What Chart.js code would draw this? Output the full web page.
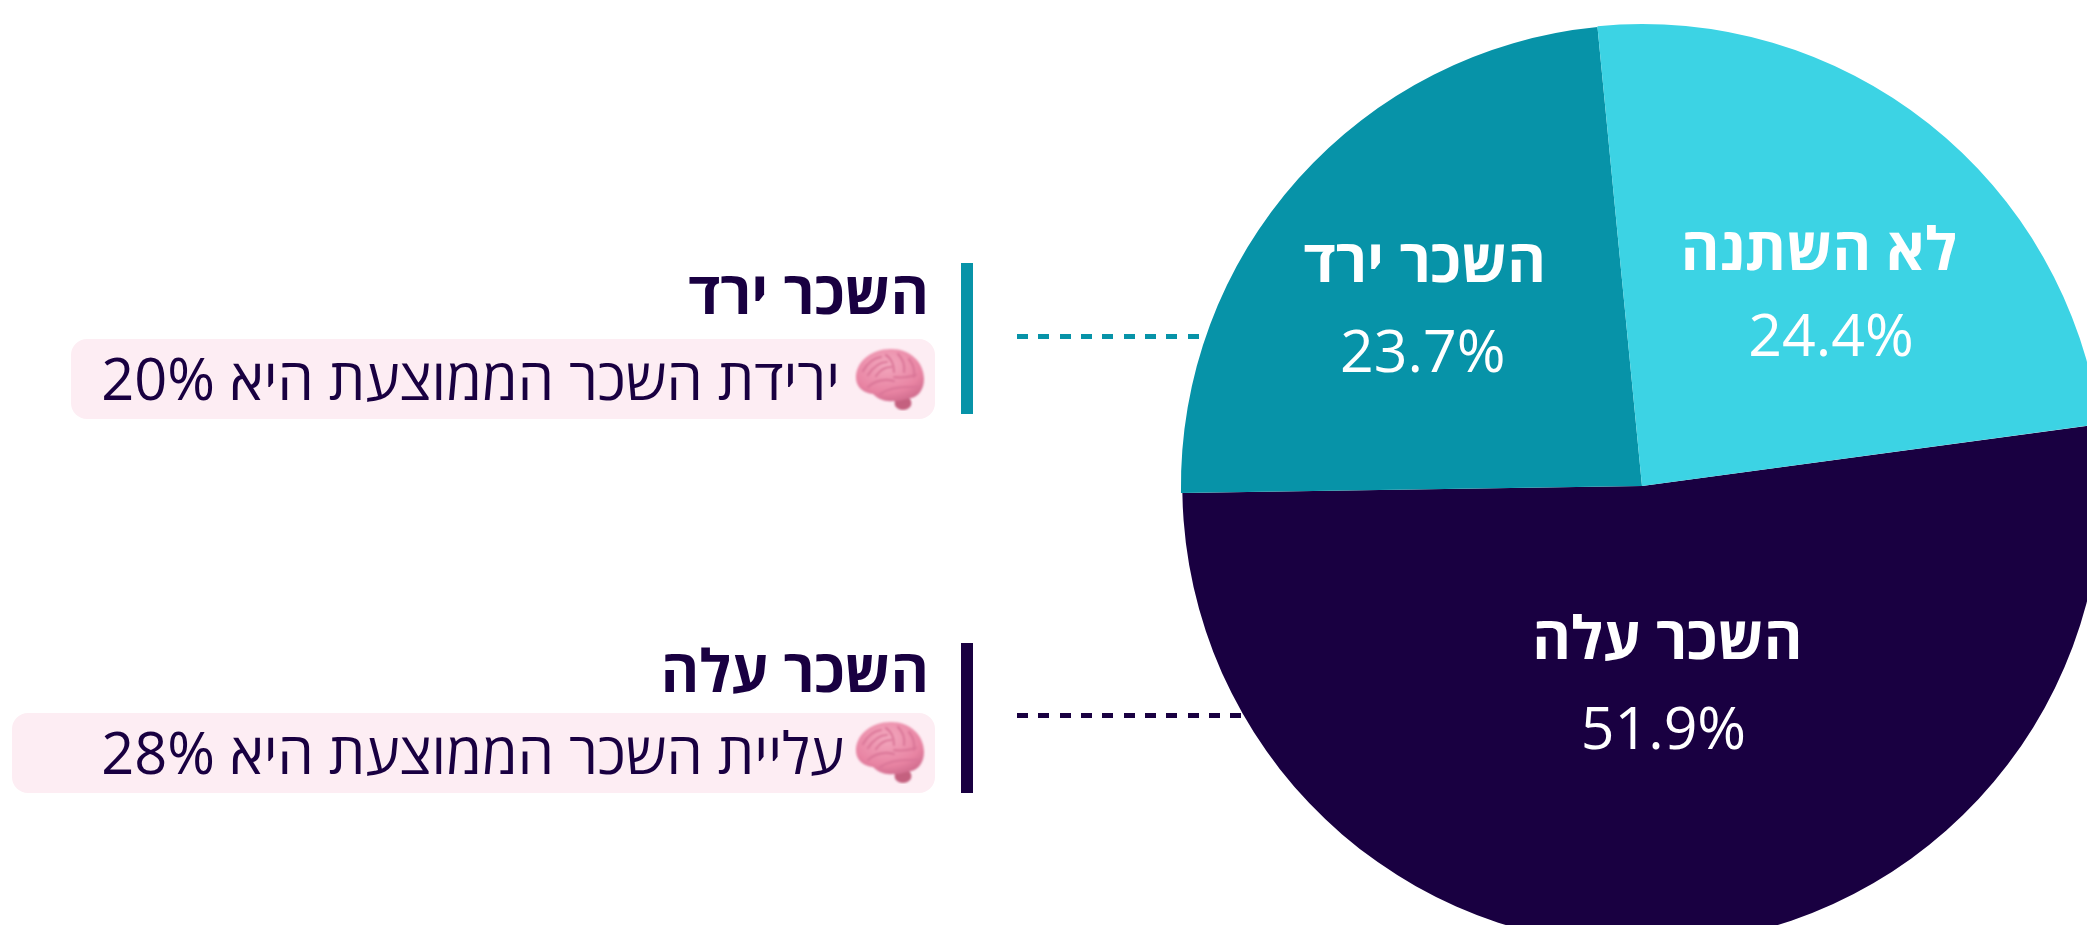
<!DOCTYPE html>
<html lang="he">
<head>
<meta charset="utf-8">
<script src="https://cdn.jsdelivr.net/npm/chart.js@4"></script>
<style>
html,body{margin:0;padding:0;width:2087px;height:925px;overflow:hidden;background:#fff;font-family:"Open Sans",sans-serif;color:#190041}
#wrap{position:absolute;left:0;top:0;width:2087px;height:925px;overflow:hidden}
#cv{position:absolute;left:0;top:0}
.bar{position:absolute;left:961px;width:12px}
.title{position:absolute;right:1158px;font-weight:700;font-size:58.6px;line-height:60px;direction:rtl;white-space:nowrap}
.box{position:absolute;right:1152px;background:#fdedf3;border-radius:16px;height:80px}
.txt{position:absolute;right:1247px;font-size:57.7px;line-height:80px;direction:rtl;white-space:nowrap}
.brain{position:absolute;left:854px;width:72px;height:64px}
.dash{position:absolute;left:1017px;height:5px}
</style>
</head>
<body>
<div id="wrap">
<canvas id="cv"></canvas>
<div class="bar" style="top:263px;height:151px;background:#0793a8"></div>
<div class="title" style="top:261px">השכר ירד</div>
<div class="box" style="top:339px;width:864px"></div>
<div class="txt" style="top:338px">ירידת השכר הממוצעת היא 20%</div>
<svg class="brain" style="top:347px" viewBox="0 0 72 64"><use href="#b"/></svg>
<div class="dash" style="top:334px;width:182px;background:repeating-linear-gradient(90deg,#0793a8 0 11px,transparent 11px 21.33px)"></div>

<div class="bar" style="top:643px;height:150px;background:#190041"></div>
<div class="title" style="top:639px">השכר עלה</div>
<div class="box" style="top:713px;width:923px"></div>
<div class="txt" style="top:712px;right:1243px">עליית השכר הממוצעת היא 28%</div>
<svg class="brain" style="top:720px" viewBox="0 0 72 64"><use href="#b"/></svg>
<div class="dash" style="top:713px;width:225px;background:repeating-linear-gradient(90deg,#190041 0 11px,transparent 11px 21.33px)"></div>
</div>
<svg width="0" height="0" style="position:absolute"><defs>
<radialGradient id="g" cx="45%" cy="30%" r="75%"><stop offset="0" stop-color="#f3a8be"/><stop offset="0.7" stop-color="#e884a3"/><stop offset="1" stop-color="#cf6a8c"/></radialGradient>
<filter id="s" x="-10%" y="-10%" width="120%" height="120%"><feGaussianBlur stdDeviation="0.8"/></filter>
<g id="b" filter="url(#s)">
<ellipse cx="49" cy="56" rx="8.5" ry="7" fill="#c4607f"/>
<path d="M2 32C1 15 17 2 37 2c19 0 33 13 33 30 0 12-7 19-17 20-5 1-9 3-14 2-8 1-15-2-20-7C10 46 3 41 2 32z" fill="url(#g)"/>
<path d="M9 24c5-9 11-13 18-14M14 28c6-9 12-13 19-13M22 29c4-6 10-9 15-9M32 8c6 4 8 10 8 17M44 7c5 5 7 11 6 18M55 12c4 5 6 11 5 18M14 40c8-7 18-8 26-6M26 47c9-6 22-8 38-7M40 30c6 1 12 1 22 -2" fill="none" stroke="#da7698" stroke-width="2.2" stroke-linecap="round"/>
</g></defs></svg>
<script>
const categories = ["השכר עלה", "השכר ירד", "לא השתנה"];
const shares = [51.9, 23.7, 24.4];
const sliceColors = ["#190041", "#0793a8", "#3cd3e4"];
const startAngle = 82.3;
const sliceScale = [0.995, 0.998, 1];
const labelRadius = [0.42, 0.60, 0.575];
const nameShift = [[11, 9], [-11, 9], [12, 20]];
const valueShift = [[7, 9], [-13, 9], [24, 16]];

const cv = document.getElementById("cv");
cv.width = 2200; cv.height = 1000;
cv.style.width = "2200px"; cv.style.height = "1000px";

const sliceLook = {
  id: "sliceLook",
  beforeDatasetsDraw(chart) {
    const meta = chart.getDatasetMeta(0);
    meta.data.forEach((arc, i) => {
      arc.outerRadius = meta.controller.outerRadius * sliceScale[i];
    });
  }
};

const sliceLabels = {
  id: "sliceLabels",
  afterDatasetsDraw(chart) {
    const ctx = chart.ctx;
    chart.getDatasetMeta(0).data.forEach((arc, i) => {
      const mid = (arc.startAngle + arc.endAngle) / 2;
      const r = arc.outerRadius * labelRadius[i];
      const x = arc.x + Math.cos(mid) * r;
      const y = arc.y + Math.sin(mid) * r;
      ctx.save();
      ctx.fillStyle = "#fff";
      ctx.textAlign = "center";
      ctx.textBaseline = "middle";
      ctx.direction = "rtl";
      ctx.font = '700 59px "Open Sans"';
      ctx.fillText(categories[i], x + nameShift[i][0], y - 45 + nameShift[i][1]);
      ctx.direction = "ltr";
      ctx.font = '400 59px "Open Sans"';
      ctx.fillText(shares[i].toFixed(1) + "%", x + valueShift[i][0], y + 45 + valueShift[i][1]);
      ctx.restore();
    });
  }
};

new Chart(cv, {
  type: "pie",
  data: { labels: categories, datasets: [{ data: shares, backgroundColor: sliceColors, borderWidth: 0, clip: false }] },
  options: {
    responsive: false,
    animation: false,
    rotation: startAngle,
    layout: { padding: { left: 1180, right: 96, top: 24, bottom: 52 } },
    plugins: { legend: { display: false }, tooltip: { enabled: false } }
  },
  plugins: [sliceLook, sliceLabels]
});
</script>
</body>
</html>
